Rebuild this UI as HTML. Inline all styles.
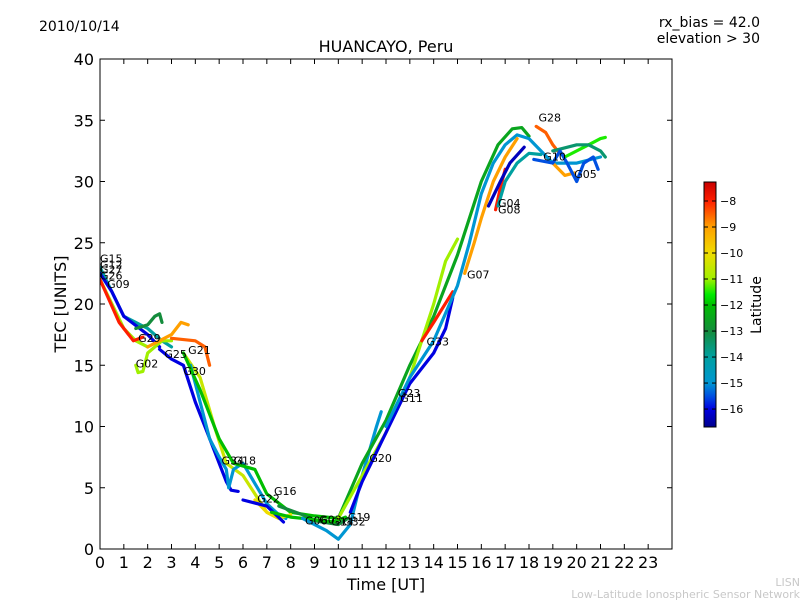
<!DOCTYPE html>
<html><head><meta charset="utf-8"><style>
body{margin:0;background:#fff}
svg{display:block;font-family:"DejaVu Sans","Liberation Sans",sans-serif}
</style></head><body>
<svg id="c" width="800" height="600">
<text x="39" y="31" font-size="14">2010/10/14</text>
<text x="760" y="27" font-size="14" text-anchor="end">rx_bias = 42.0</text>
<text x="760" y="43" font-size="14" text-anchor="end">elevation &gt; 30</text>
<text x="386" y="52" font-size="16" text-anchor="middle">HUANCAYO, Peru</text>
<text x="386" y="590" font-size="16" text-anchor="middle">Time [UT]</text>
<text x="66" y="304" font-size="16" text-anchor="middle" transform="rotate(-90 66 304)">TEC [UNITS]</text>
<text x="761" y="305" font-size="14" text-anchor="middle" transform="rotate(-90 761 305)">Latitude</text>
<text x="800" y="586" font-size="11" fill="#c8c8c8" text-anchor="end">LISN</text>
<text x="800" y="598" font-size="11" fill="#c8c8c8" text-anchor="end">Low-Latitude Ionospheric Sensor Network</text>
<g id="marks"></g>
<g id="axes"></g>
</svg>
<script>
const xTicks=[0,1,2,3,4,5,6,7,8,9,10,11,12,13,14,15,16,17,18,19,20,21,22,23];
const yTicks=[0,5,10,15,20,25,30,35,40];
const cbTicks=[-8,-9,-10,-11,-12,-13,-14,-15,-16];
const traceNames=["G15","G09","G26","G27","G29","G02","G25","G30","G21","Y1","G34","G18","G22","G16","N1","N2","G20","R1","R2","R3","G33","R4","G07","G08","G04","G10","G28","G05","E1","E2","E3"];
const traceLats=[-14,-16,-11,-8,-13,-11,-9,-16,-8.5,-10.5,-15,-12,-10,-16,-13,-12,-15,-12.5,-11,-16,-8,-15,-9,-8,-14,-16.3,-8.5,-9,-11.5,-13.5,-15.5];
const traceTimes=[
[0,0.5,1,2,2.6,3],[0,0.5,1,2,2.5],[0,1,1.5,2],[0,0.8,1.4,1.8],[1.5,2,2.3,2.5,2.6],[1.5,1.6,1.8,2,2.6,3],[2,3,3.4,3.7],
[2.5,3,3.5,4,4.5,5,5.3,5.5,5.8],[3,4,4.4,4.6],[3.5,4.2,4.8,5.3,6,6.5,7,7.5],[3.8,4.2,4.6,5,5.3,5.4,5.6,6,7,7.5,7.8],
[3.5,4.2,5,5.6,6.5,7,8,9,10],[6.5,7,7.5,8],[6,7,7.7],[7.5,8.5,9,10,10.4],[7.2,8,9,9.8,10.3],[8.5,9.5,10,10.5,11,11.6,11.8],
[10,11,12,13,14,15,16,16.7,17.3,17.7,18],[10,11,12,13,14,14.5,15],[10.5,11,12,13,14,14.5,14.8],[13.5,14,14.8],
[12,13,14,15,15.5,16,16.5,17,17.5,18,18.5,19,20,21],[15.3,15.7,16,16.5,17,17.5],[16.6,16.8,17],[16.7,17,17.5,18,18.5],
[16.3,16.8,17.2,17.8],[18.3,18.7,19,19.2],[19,19.5,19.9],[19.5,20.5,21,21.2],[19,20,20.5,21,21.2],[18.2,19,19.3,19.6,20,20.3,20.7,20.9]];
const traceTec=[
[23,21,19,18,17,16.5],[22.5,21,19,17.5,16.5],[22,18,17,16.5],[22,18.5,17,17.3],[18,18.3,19,19.2,18.5],[15,14.4,14.5,16,17,17],[16.5,17.5,18.5,18.3],
[16.3,15.5,15,12,9.5,7,5.5,4.8,4.7],[17.2,17,16.5,15],[16,14,10,7,6,4.5,3,2.5],[15,12,9,7.5,6.5,5,6.5,7,3.7,2.8,2.5],
[16,13,9,7,6.5,4.5,3,2.7,2.5],[4,3,2.5,2.8],[4,3.5,2.2],[3.5,2.8,2.3,2,2.5],[3,2.6,2.4,2.2,2.6],[2.5,1.5,0.8,2,6,10,11.2],
[2.5,7,10.5,15,19,24,30,33,34.3,34.4,33.7],[2.5,6,9.5,14,20,23.5,25.3],[3,5.5,9.5,13.5,16,18,20.5],[17,18.5,21],
[10,14,17,21.5,25,29,31.5,33,33.8,33.5,32.5,31.5,31.5,32],[22.5,25,27,30,32,33.5],[27.7,29.5,31],[28,30,31.5,32.3,32.2],
[28,30,31.5,32.8],[34.5,34,33,32.5],[31.5,30.5,30.7],[32,33,33.5,33.6],[32.5,33,33,32.5,32],[31.8,31.5,32.5,31.5,30,31.5,32,31]];
const labelNames=["G15","G12","G27","G26","G09","G29","G02","G25","G21","G30","G34","G18","G22","G16","G06","G03","G14","G32","G19","G20","G23","G11","G33","G07","G04","G08","G28","G10","G05"];
const labelX=[0,0,0,0,0.3,1.6,1.5,2.7,3.7,3.5,5.1,5.6,6.6,7.3,8.6,9.2,9.7,10.2,10.4,11.3,12.5,12.6,13.7,15.4,16.7,16.7,18.4,18.6,19.9];
const labelY=[23.4,22.9,22.5,22,21.3,16.9,14.8,15.6,15.9,14.2,6.9,6.9,3.8,4.4,2,2.1,1.9,1.9,2.3,7.1,12.4,12,16.6,22.1,27.9,27.4,34.9,31.7,30.3];

const L=100,R=672,T=59,B=549;
const xs=h=>L+h*(R-L)/24, ys=v=>B-v*(B-T)/40;
const latMin=-16.69,latMax=-7.27, cbT=182,cbB=427;
const cbY=l=>cbB-(l-latMin)/(latMax-latMin)*(cbB-cbT);
const stops=[[-16.69,[0,0,140]],[-16,[0,0,225]],[-15.5,[0,80,225]],[-15,[0,150,210]],[-14,[0,160,160]],[-13,[20,140,60]],[-12,[0,190,0]],[-11.6,[0,235,0]],[-11,[160,240,0]],[-10,[240,220,0]],[-9,[255,160,0]],[-8,[255,30,0]],[-7.27,[200,0,0]]];
function cmap(l){
 if(l<=stops[0][0])return 'rgb('+stops[0][1]+')';
 for(let i=1;i<stops.length;i++){if(l<=stops[i][0]){const a=stops[i-1],b=stops[i],f=(l-a[0])/(b[0]-a[0]);
  return 'rgb('+a[1].map((v,k)=>Math.round(v+(b[1][k]-v)*f)).join(',')+')';}}
 return 'rgb('+stops[stops.length-1][1]+')';
}
const NS="http://www.w3.org/2000/svg";
function mk(tag,at,par){const e=document.createElementNS(NS,tag);for(const k in at)e.setAttribute(k,at[k]);par.appendChild(e);return e;}
const marks=document.getElementById('marks'), axes=document.getElementById('axes');
const clip=mk('clipPath',{id:'pc'},marks);mk('rect',{x:L,y:T,width:R-L,height:B-T},clip);
const g=mk('g',{'clip-path':'url(#pc)'},marks);
traceNames.forEach((n,i)=>{
 const d=traceTimes[i].map((h,j)=>(j?'L':'M')+xs(h).toFixed(1)+' '+ys(traceTec[i][j]).toFixed(1)).join(' ');
 const p=mk('path',{d:d,fill:'none',stroke:cmap(traceLats[i]),'stroke-width':3.2,'stroke-linejoin':'round','stroke-linecap':'round'},g);
 
 
});
labelNames.forEach((n,i)=>{
 const t=mk('text',{x:xs(labelX[i]),y:ys(labelY[i]),'font-size':11},marks);t.textContent=n;
 
 
});
const fr=mk('rect',{x:L,y:T,width:R-L,height:B-T,fill:'none',stroke:'#000','stroke-width':1},axes);


xTicks.forEach(h=>{
 const x=xs(h);
 mk('line',{x1:x,x2:x,y1:B,y2:B-5,stroke:'#000'},axes);mk('line',{x1:x,x2:x,y1:T,y2:T+5,stroke:'#000'},axes);
 const t=mk('text',{x:x,y:B+19,'font-size':16,'text-anchor':'middle'},axes);t.textContent=h;
 
 
});
yTicks.forEach(v=>{
 const y=ys(v);
 mk('line',{x1:L,x2:L+5,y1:y,y2:y,stroke:'#000'},axes);mk('line',{x1:R,x2:R-5,y1:y,y2:y,stroke:'#000'},axes);
 const t=mk('text',{x:L-6,y:y+6,'font-size':16,'text-anchor':'end'},axes);t.textContent=v;
 
 
});
const cb=mk('g',{},axes);


for(let y=cbT;y<cbB;y++){const l=latMin+(cbB-y-0.5)/(cbB-cbT)*(latMax-latMin);mk('rect',{x:704,y:y,width:12,height:1.2,fill:cmap(l)},cb);}
mk('rect',{x:704,y:cbT,width:12,height:cbB-cbT,fill:'none',stroke:'#000'},cb);
cbTicks.forEach(l=>{const y=cbY(l);mk('line',{x1:716,x2:712,y1:y,y2:y,stroke:'#000'},cb);mk('line',{x1:704,x2:708,y1:y,y2:y,stroke:'#000'},cb);
 const t=mk('text',{x:720,y:y+4,'font-size':11},cb);t.textContent='\u2212'+(-l);
 
 
});
</script>
</body></html>
